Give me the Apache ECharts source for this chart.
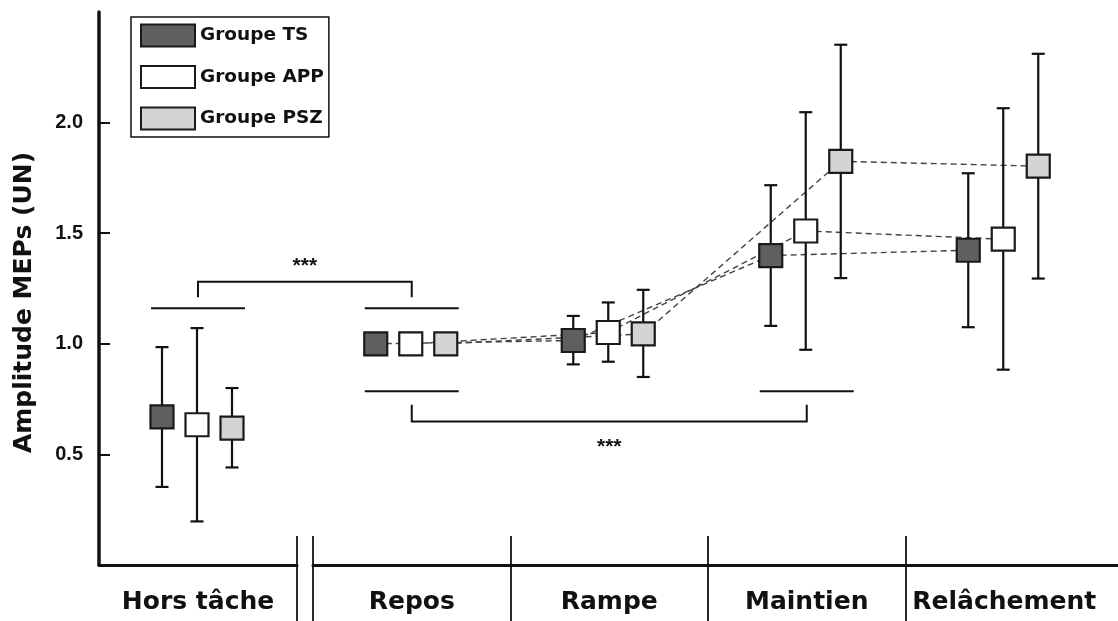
<!DOCTYPE html>
<html><head><meta charset="utf-8">
<script src="https://cdn.jsdelivr.net/npm/echarts@6/dist/echarts.min.js"></script>
<style>html,body{margin:0;padding:0;background:#fff}#c{width:1118px;height:621px}</style>
</head><body><div id="c"></div>
<script>
const categories = ['Hors tâche', 'Repos', 'Rampe', 'Maintien', 'Relâchement'];
const groups = ['Groupe TS', 'Groupe APP', 'Groupe PSZ'];
const yTicks = [0.5, 1.0, 1.5, 2.0];

const tsMean  = [0.670, 1.000, 1.015, 1.399, 1.423];
const tsLow   = [0.353, null,  0.907, 1.081, 1.075];
const tsHigh  = [0.985, null,  1.126, 1.717, 1.771];
const appMean = [0.634, 1.000, 1.051, 1.510, 1.473];
const appLow  = [0.197, null,  0.919, 0.973, 0.883];
const appHigh = [1.071, null,  1.187, 2.047, 2.065];
const pszMean = [0.619, 1.000, 1.045, 1.825, 1.803];
const pszLow  = [0.441, null,  0.850, 1.297, 1.295];
const pszHigh = [0.800, null,  1.244, 2.352, 2.311];

// significance brackets (category indices, levels in y units)
const sigLabels  = ['***', '***'];
const sigFrom    = [0, 1];
const sigTo      = [1, 3];
const sigBar     = [1.161, 0.785];
const sigBracket = [1.281, 0.649];
const sigLeg     = [1.211, 0.724];
const sigText    = [1.35, 0.532];

const INK = '#111';
const groupDefs = [
  { name: groups[0], mean: tsMean,  low: tsLow,  high: tsHigh,  fill: '#5f5f5f', dx: -36 },
  { name: groups[1], mean: appMean, low: appLow, high: appHigh, fill: '#ffffff', dx: -1 },
  { name: groups[2], mean: pszMean, low: pszLow, high: pszHigh, fill: '#d4d4d4', dx: 34 }
];

function boxRenderer(g) {
  return function (params, api) {
    const x = api.value(0), m = api.value(1), lo = api.value(2), hi = api.value(3);
    const c = api.coord([x, m]);
    const cx = c[0] + g.dx;
    const children = [];
    if (!isNaN(lo) && !isNaN(hi) && lo !== null) {
      const pl = api.coord([x, lo]), ph = api.coord([x, hi]);
      const st = { stroke: INK, lineWidth: 2.2 };
      children.push({ type: 'line', shape: { x1: cx, y1: ph[1], x2: cx, y2: pl[1] }, style: st });
      children.push({ type: 'line', shape: { x1: cx - 6.5, y1: ph[1], x2: cx + 6.5, y2: ph[1] }, style: st });
      children.push({ type: 'line', shape: { x1: cx - 6.5, y1: pl[1], x2: cx + 6.5, y2: pl[1] }, style: st });
    }
    children.push({ type: 'rect', shape: { x: cx - 11.5, y: c[1] - 11.5, width: 23, height: 23 },
      style: { fill: g.fill, stroke: '#1a1a1a', lineWidth: 2.2 } });
    return { type: 'group', children: children };
  };
}
function segRenderer(g) {
  return function (params, api) {
    const p0 = api.coord([api.value(0), api.value(1)]);
    const p1 = api.coord([api.value(2), api.value(3)]);
    return { type: 'line', shape: { x1: p0[0] + g.dx, y1: p0[1], x2: p1[0] + g.dx, y2: p1[1] },
      style: { stroke: '#444', lineWidth: 1.4, lineDash: [6, 4] } };
  };
}

const series = [];
groupDefs.forEach(function (g) {
  const segs = [];
  for (let i = 1; i < categories.length - 1; i++) segs.push([i, g.mean[i], i + 1, g.mean[i + 1]]);
  series.push({ type: 'custom', name: g.name, xAxisIndex: 2, yAxisIndex: 1, z: 1,
    dimensions: ['x0', 'y0', 'x1', 'y1'], encode: { x: [0, 2], y: [1, 3] },
    renderItem: segRenderer(g), data: segs, itemStyle: { color: g.fill }, silent: true });
});
groupDefs.forEach(function (g) {
  const d0 = [[0, g.mean[0], g.low[0], g.high[0]]];
  const d1 = [];
  for (let i = 1; i < categories.length; i++) d1.push([i, g.mean[i], g.low[i] == null ? NaN : g.low[i], g.high[i] == null ? NaN : g.high[i]]);
  series.push({ type: 'custom', name: g.name, xAxisIndex: 0, yAxisIndex: 0, z: 3,
    dimensions: ['x', 'm', 'lo', 'hi'], encode: { x: 0, y: 1 },
    renderItem: boxRenderer(g), data: d0, itemStyle: { color: g.fill }, silent: true });
  series.push({ type: 'custom', name: g.name, xAxisIndex: 2, yAxisIndex: 1, z: 3,
    dimensions: ['x', 'm', 'lo', 'hi'], encode: { x: 0, y: 1 },
    renderItem: boxRenderer(g), data: d1, itemStyle: { color: g.fill }, silent: true });
});

const labelFont = { fontFamily: 'DejaVu Sans', fontWeight: 'bold', fontSize: 25, color: INK };
const tickStyle = { color: INK, width: 1.8 };

function xAxes(gridIndex, min, max, tickVals, labelVals) {
  return [
    { gridIndex: gridIndex, type: 'value', min: min, max: max, position: 'bottom',
      axisLine: { show: true, onZero: false, lineStyle: { color: INK, width: 3 } },
      axisTick: { show: true, inside: false, length: 56, customValues: tickVals, lineStyle: tickStyle },
      axisLabel: Object.assign({ show: true, customValues: labelVals, margin: 25,
        formatter: function (v) { return categories[Math.round(v)]; } }, labelFont),
      splitLine: { show: false } },
    { gridIndex: gridIndex, type: 'value', min: min, max: max, position: 'bottom',
      axisLine: { show: false },
      axisTick: { show: true, inside: true, length: 29, customValues: tickVals, lineStyle: tickStyle },
      axisLabel: { show: false }, splitLine: { show: false } }
  ];
}

const option = {
  animation: false,
  backgroundColor: '#ffffff',
  grid: [
    { left: 99, top: 12, width: 198, bottom: 56, outerBoundsMode: 'none' },
    { left: 313, top: 12, right: 0, bottom: 56, outerBoundsMode: 'none' }
  ],
  xAxis: xAxes(0, -0.5, 0.5, [0.5], [0]).concat(xAxes(1, 0.5, 4.576, [0.5, 1.5, 2.5, 3.5], [1, 2, 3, 4])),
  yAxis: [
    { gridIndex: 0, type: 'value', min: 0, max: 2.5,
      axisLine: { show: true, onZero: false, lineStyle: { color: INK, width: 3.5 } },
      axisTick: { show: true, inside: true, length: 11, customValues: yTicks, lineStyle: { color: INK, width: 2 } },
      axisLabel: { customValues: yTicks, margin: 16, formatter: function (v) { return v.toFixed(1); },
        fontFamily: 'Liberation Sans', fontWeight: 'bold', fontSize: 20, color: INK },
      splitLine: { show: false },
      name: 'Amplitude MEPs (UN)', nameLocation: 'middle', nameRotate: 90, nameGap: 62,
      nameTextStyle: Object.assign({ padding: [0, 28, 0, 0] }, labelFont) },
    { gridIndex: 1, type: 'value', min: 0, max: 2.5, show: false }
  ],
  legend: {
    orient: 'vertical', left: 131, top: 17, selectedMode: false,
    itemWidth: 54, itemHeight: 22, itemGap: 17.5,
    padding: [6.5, 5, 6.5, 9],
    borderColor: INK, borderWidth: 1.5, backgroundColor: '#ffffff',
    textStyle: { fontFamily: 'DejaVu Sans', fontWeight: 'bold', fontSize: 18.5, color: INK },
    data: groupDefs.map(function (g) {
      return { name: g.name, icon: 'rect', itemStyle: { color: g.fill, borderColor: '#1a1a1a', borderWidth: 2 } };
    })
  },
  series: series
};

const chart = echarts.init(document.getElementById('c'), null, { renderer: 'canvas' });
chart.setOption(option);

function toPx(cat, v) {
  return cat === 0
    ? chart.convertToPixel({ xAxisIndex: 0, yAxisIndex: 0 }, [cat, v])
    : chart.convertToPixel({ xAxisIndex: 2, yAxisIndex: 1 }, [cat, v]);
}
const graphics = [];
const ln = { stroke: INK, lineWidth: 2, fill: null };
for (let k = 0; k < sigLabels.length; k++) {
  const a = toPx(sigFrom[k], sigBar[k]), b = toPx(sigTo[k], sigBar[k]);
  graphics.push({ type: 'line', shape: { x1: a[0] - 47, y1: a[1], x2: a[0] + 47, y2: a[1] }, style: ln, z: 10 });
  graphics.push({ type: 'line', shape: { x1: b[0] - 47, y1: b[1], x2: b[0] + 47, y2: b[1] }, style: ln, z: 10 });
  const aB = toPx(sigFrom[k], sigBracket[k]), bB = toPx(sigTo[k], sigBracket[k]);
  const aL = toPx(sigFrom[k], sigLeg[k]), bL = toPx(sigTo[k], sigLeg[k]);
  graphics.push({ type: 'polyline', shape: { points: [[aL[0], aL[1]], [aB[0], aB[1]], [bB[0], bB[1]], [bL[0], bL[1]]] }, style: ln, z: 10 });
  const t = toPx(sigTo[k], sigText[k]);
  graphics.push({ type: 'text', x: (aB[0] + bB[0]) / 2, y: t[1], z: 10,
    style: { text: sigLabels[k], fontFamily: 'Liberation Sans', fontWeight: 'bold', fontSize: 21, fill: INK, align: 'center', verticalAlign: 'middle' } });
}
chart.setOption({ graphic: graphics });
</script>
</body></html>
